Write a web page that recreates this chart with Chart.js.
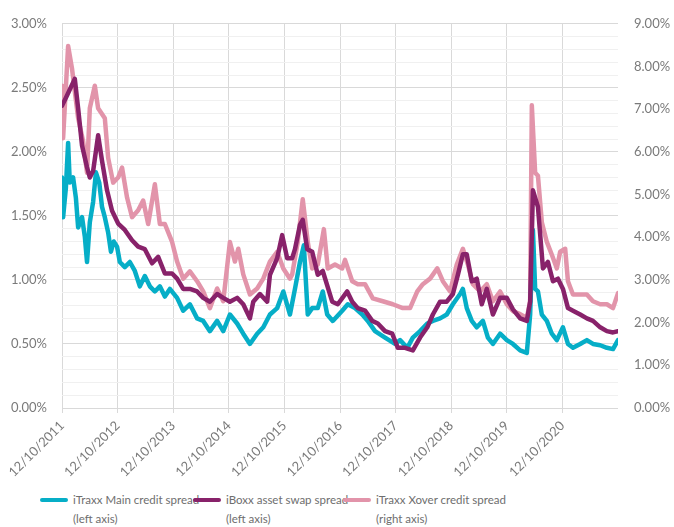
<!DOCTYPE html>
<html>
<head>
<meta charset="utf-8">
<script src="https://cdn.jsdelivr.net/npm/chart.js@4/dist/chart.umd.min.js"></script>
<style>
  body { margin: 0; background: #fff; font-family: Lato, "Open Sans", sans-serif; }
  #wrap { position: relative; width: 674px; height: 527px; }
  #chart { position: absolute; left: 0; top: 0; }
  .leg { position: absolute; top: 490px; font-family: Lato, sans-serif; font-size: 11.5px; color: #6e6e6e; line-height: 19px; white-space: nowrap; }
  .leg .sw { display: inline-block; width: 28px; height: 4px; border-radius: 2px; vertical-align: middle; margin-right: 5px; position: relative; top: -1px; }
  .leg .note { padding-left: 33px; }
</style>
</head>
<body>
<div id="wrap">
  <canvas id="chart" width="674" height="480"></canvas>
</div>
<script>
    // x values are decimal years (12/10/2011 = 2011.78)
    const startYear = 2011.78;
    const tickLabels = ['12/10/2011', '12/10/2012', '12/10/2013', '12/10/2014', '12/10/2015',
        '12/10/2016', '12/10/2017', '12/10/2018', '12/10/2019', '12/10/2020'];

    const seriesNames = ['iTraxx Main credit spread', 'iBoxx asset swap spread', 'iTraxx Xover credit spread'];
    const seriesNotes = ['(left axis)', '(left axis)', '(right axis)'];
    const seriesColors = ['#06AEC7', '#88226A', '#E294AA'];

    // iTraxx Main (left axis, %)
    const mainDates = [2011.78, 2011.80, 2011.85, 2011.89, 2011.92, 2011.98, 2012.03, 2012.07, 2012.14, 2012.19,
        2012.23, 2012.28, 2012.34, 2012.39, 2012.45, 2012.50, 2012.55, 2012.61, 2012.66, 2012.71,
        2012.77, 2012.82, 2012.91, 2013.00, 2013.09, 2013.18, 2013.27, 2013.36, 2013.45, 2013.54,
        2013.63, 2013.72, 2013.85, 2013.96, 2014.08, 2014.21, 2014.32, 2014.44, 2014.57, 2014.68,
        2014.80, 2014.93, 2015.04, 2015.16, 2015.29, 2015.40, 2015.52, 2015.65, 2015.76, 2015.88,
        2015.97, 2016.06, 2016.13, 2016.20, 2016.28, 2016.38, 2016.47, 2016.55, 2016.65, 2016.82,
        2016.92, 2017.05, 2017.18, 2017.28, 2017.41, 2017.59, 2017.77, 2017.86, 2017.99, 2018.09,
        2018.22, 2018.35, 2018.45, 2018.58, 2018.70, 2018.81, 2018.94, 2018.99, 2019.06, 2019.15,
        2019.24, 2019.35, 2019.44, 2019.53, 2019.66, 2019.78, 2019.89, 2020.02, 2020.14, 2020.20,
        2020.25, 2020.29, 2020.34, 2020.41, 2020.50, 2020.59, 2020.68, 2020.79, 2020.88, 2020.97,
        2021.10, 2021.22, 2021.33, 2021.46, 2021.58, 2021.69, 2021.78];
    const mainValues = [1.80, 1.49, 1.72, 2.07, 1.76, 1.80, 1.64, 1.41, 1.49, 1.34,
        1.14, 1.45, 1.61, 1.84, 1.76, 1.57, 1.49, 1.37, 1.22, 1.30,
        1.26, 1.14, 1.10, 1.14, 1.07, 0.95, 1.03, 0.95, 0.91, 0.95,
        0.87, 0.93, 0.86, 0.76, 0.81, 0.70, 0.68, 0.60, 0.68, 0.60,
        0.73, 0.66, 0.58, 0.50, 0.58, 0.63, 0.73, 0.78, 0.91, 0.73,
        0.93, 1.14, 1.27, 0.73, 0.78, 0.78, 0.91, 0.73, 0.68, 0.76,
        0.81, 0.78, 0.73, 0.68, 0.60, 0.55, 0.50, 0.53, 0.47, 0.55,
        0.60, 0.66, 0.68, 0.70, 0.73, 0.81, 0.89, 0.93, 0.78, 0.68,
        0.63, 0.68, 0.55, 0.50, 0.58, 0.53, 0.50, 0.45, 0.43, 0.73,
        1.39, 0.93, 0.91, 0.73, 0.68, 0.58, 0.53, 0.63, 0.50, 0.47,
        0.50, 0.53, 0.50, 0.49, 0.47, 0.46, 0.53];

    // iBoxx asset swap (left axis, %)
    const iboxxDates = [2011.78, 2011.87, 2012.01, 2012.07, 2012.14, 2012.23, 2012.28, 2012.34, 2012.43, 2012.50,
        2012.59, 2012.68, 2012.79, 2012.91, 2013.04, 2013.15, 2013.27, 2013.40, 2013.51, 2013.63,
        2013.76, 2013.85, 2013.96, 2014.08, 2014.21, 2014.32, 2014.44, 2014.57, 2014.68, 2014.80,
        2014.93, 2015.04, 2015.16, 2015.22, 2015.34, 2015.47, 2015.52, 2015.65, 2015.74, 2015.83,
        2015.92, 2015.97, 2016.06, 2016.11, 2016.19, 2016.28, 2016.38, 2016.47, 2016.64, 2016.74,
        2016.91, 2017.00, 2017.10, 2017.23, 2017.36, 2017.46, 2017.59, 2017.72, 2017.82, 2017.95,
        2018.09, 2018.22, 2018.35, 2018.45, 2018.58, 2018.70, 2018.81, 2018.90, 2018.99, 2019.06,
        2019.15, 2019.24, 2019.33, 2019.42, 2019.53, 2019.66, 2019.78, 2019.89, 2020.02, 2020.14,
        2020.20, 2020.25, 2020.34, 2020.43, 2020.52, 2020.61, 2020.70, 2020.79, 2020.88, 2020.97,
        2021.10, 2021.22, 2021.33, 2021.46, 2021.58, 2021.69, 2021.78];
    const iboxxValues = [2.36, 2.44, 2.57, 2.34, 2.05, 1.88, 1.80, 1.85, 2.13, 1.93,
        1.70, 1.54, 1.44, 1.39, 1.31, 1.26, 1.24, 1.13, 1.18, 1.05,
        1.05, 1.01, 0.93, 0.93, 0.91, 0.86, 0.83, 0.89, 0.86, 0.83,
        0.86, 0.81, 0.70, 0.83, 0.89, 0.83, 1.04, 1.17, 1.35, 1.17,
        1.17, 1.24, 1.43, 1.47, 1.24, 1.22, 1.04, 1.07, 0.83, 0.81,
        0.91, 0.83, 0.78, 0.76, 0.68, 0.66, 0.60, 0.58, 0.47, 0.47,
        0.45, 0.55, 0.63, 0.73, 0.83, 0.83, 0.89, 1.04, 1.20, 1.20,
        0.99, 1.01, 0.81, 0.93, 0.73, 0.86, 0.86, 0.77, 0.70, 0.68,
        0.83, 1.70, 1.57, 1.09, 1.14, 0.99, 1.01, 0.93, 0.78, 0.76,
        0.73, 0.70, 0.68, 0.63, 0.60, 0.59, 0.60];

    // iTraxx Xover (right axis, %)
    const xoverDates = [2011.78, 2011.80, 2011.89, 2011.96, 2012.07, 2012.16, 2012.23, 2012.28, 2012.37, 2012.43,
        2012.55, 2012.61, 2012.70, 2012.79, 2012.86, 2012.95, 2013.04, 2013.15, 2013.24, 2013.33,
        2013.45, 2013.54, 2013.63, 2013.76, 2013.85, 2013.96, 2014.08, 2014.21, 2014.32, 2014.44,
        2014.57, 2014.68, 2014.80, 2014.89, 2014.95, 2015.04, 2015.16, 2015.29, 2015.40, 2015.52,
        2015.65, 2015.76, 2015.88, 2015.92, 2016.02, 2016.11, 2016.20, 2016.28, 2016.38, 2016.49,
        2016.56, 2016.69, 2016.82, 2016.87, 2017.00, 2017.10, 2017.23, 2017.37, 2017.55, 2017.73,
        2017.91, 2018.04, 2018.17, 2018.27, 2018.40, 2018.53, 2018.63, 2018.76, 2018.88, 2018.99,
        2019.08, 2019.17, 2019.30, 2019.42, 2019.53, 2019.66, 2019.78, 2019.89, 2020.02, 2020.14,
        2020.20, 2020.23, 2020.29, 2020.34, 2020.41, 2020.50, 2020.59, 2020.68, 2020.74, 2020.83,
        2020.88, 2020.97, 2021.10, 2021.22, 2021.33, 2021.46, 2021.58, 2021.69, 2021.78];
    const xoverValues = [7.55, 6.32, 8.48, 7.95, 6.79, 6.25, 5.51, 7.02, 7.55, 7.02,
        6.79, 5.86, 5.28, 5.40, 5.63, 4.93, 4.47, 4.63, 4.86, 4.31,
        5.24, 4.31, 4.31, 3.89, 3.43, 3.03, 3.20, 2.97, 2.73, 2.34,
        2.80, 2.50, 3.89, 3.43, 3.73, 3.13, 2.66, 2.80, 3.03, 3.43,
        3.66, 3.27, 3.03, 3.13, 3.89, 4.89, 3.89, 3.27, 3.36, 4.19,
        3.27, 3.36, 3.27, 3.47, 2.97, 2.90, 2.90, 2.57, 2.50, 2.43,
        2.34, 2.34, 2.73, 2.90, 3.03, 3.27, 2.97, 2.73, 3.36, 3.73,
        3.36, 2.90, 2.73, 2.90, 2.50, 2.73, 2.43, 2.27, 2.20, 2.11,
        2.50, 7.09, 5.51, 5.44, 4.35, 3.89, 3.59, 3.27, 3.66, 3.73,
        2.97, 2.66, 2.66, 2.66, 2.50, 2.43, 2.43, 2.34, 2.69];

    const toPoints = (xs, ys) => xs.map((x, i) => ({x: x, y: ys[i]}));
    const tickFont = {family: 'Lato, "Open Sans", sans-serif', size: 13};
    const tickColor = '#7a7a7a';

    var ctx = document.getElementById('chart').getContext('2d');
    var spreadChart = new Chart(ctx, {
        type: 'line',
        data: {
            datasets: [{
                label: seriesNames[0],
                data: toPoints(mainDates, mainValues),
                borderColor: seriesColors[0],
                yAxisID: 'y',
                order: 1
            }, {
                label: seriesNames[1],
                data: toPoints(iboxxDates, iboxxValues),
                borderColor: seriesColors[1],
                yAxisID: 'y',
                order: 0
            }, {
                label: seriesNames[2],
                data: toPoints(xoverDates, xoverValues),
                borderColor: seriesColors[2],
                yAxisID: 'y2',
                order: 2
            }]
        },
        options: {
            responsive: false,
            animation: false,
            events: [],
            layout: { padding: { top: 19 } },
            elements: {
                point: { radius: 0 },
                line: { borderWidth: 4.5, tension: 0, borderJoinStyle: 'round', borderCapStyle: 'round' }
            },
            plugins: {
                legend: { display: false },
                tooltip: { enabled: false }
            },
            scales: {
                x: {
                    type: 'linear',
                    min: startYear,
                    max: startYear + 10,
                    afterBuildTicks: axis => {
                        axis.ticks = [];
                        for (let k = 0; k <= 10; k++) axis.ticks.push({value: startYear + k});
                    },
                    afterFit: axis => { axis.height = 72; },
                    border: { display: false },
                    grid: {
                        color: c => c.index < 10 ? '#d9d9d9' : 'rgba(0,0,0,0)',
                        tickLength: 5,
                        lineWidth: 1
                    },
                    ticks: {
                        autoSkip: false,
                        minRotation: 45,
                        maxRotation: 45,
                        font: tickFont,
                        color: tickColor,
                        padding: 5,
                        callback: (v, i) => tickLabels[i] || ''
                    }
                },
                y: {
                    position: 'left',
                    min: 0,
                    max: 3,
                    afterFit: axis => { axis.width = 62; },
                    afterBuildTicks: axis => {
                        axis.ticks = [];
                        for (let k = 0; k <= 30; k++) axis.ticks.push({value: k / 10});
                    },
                    border: { display: false },
                    grid: {
                        drawTicks: false,
                        color: c => Math.round(c.tick.value * 10) % 5 === 0 ? '#d9d9d9' : '#f0f0f0'
                    },
                    ticks: {
                        autoSkip: false,
                        font: tickFont,
                        color: tickColor,
                        padding: 15,
                        callback: v => Math.round(v * 10) % 5 === 0 ? v.toFixed(2) + '%' : ''
                    }
                },
                y2: {
                    position: 'right',
                    min: 0,
                    max: 9,
                    afterFit: axis => { axis.width = 56; },
                    border: { display: false },
                    grid: { display: false, drawTicks: false },
                    ticks: {
                        stepSize: 1,
                        font: tickFont,
                        color: tickColor,
                        padding: 16,
                        callback: v => v.toFixed(2) + '%'
                    }
                }
            }
        }
    });

    // legend with the axis notes on a second line
    const legendX = [40, 193, 343];
    const wrap = document.getElementById('wrap');
    seriesNames.forEach((name, i) => {
        let item = document.createElement('div');
        item.className = 'leg';
        item.style.left = legendX[i] + 'px';
        item.innerHTML = `<div><span class="sw" style="background:${seriesColors[i]}"></span>${name}</div>` +
            `<div class="note">${seriesNotes[i]}</div>`;
        wrap.appendChild(item);
    });
</script>
</body>
</html>
